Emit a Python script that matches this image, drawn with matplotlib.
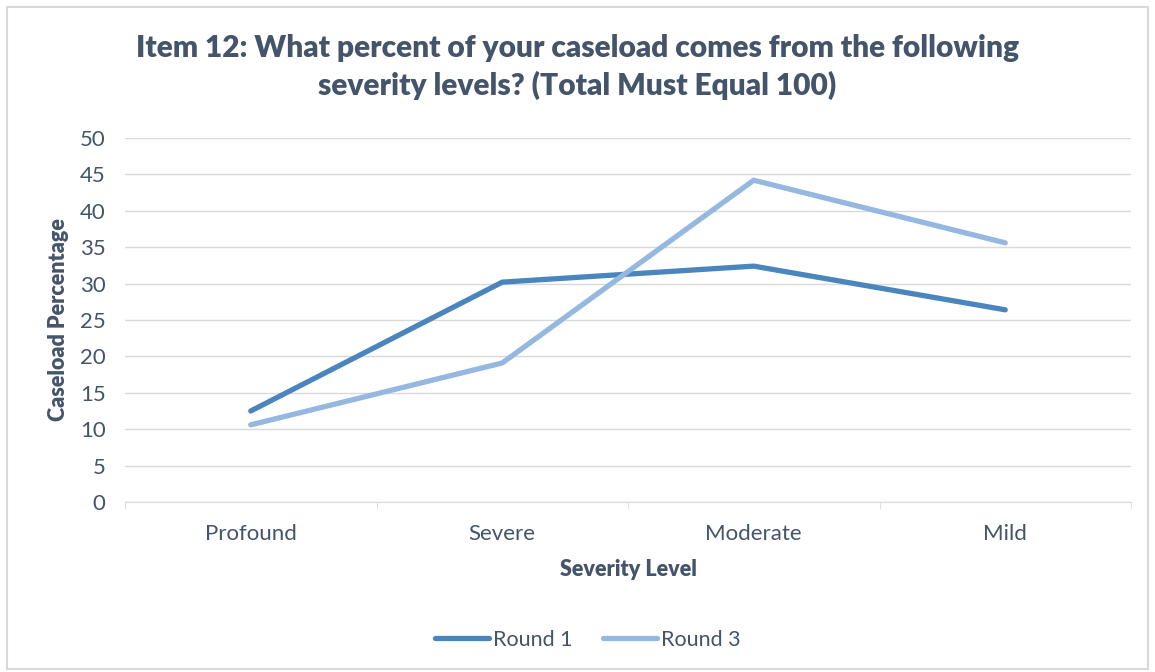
import numpy as np
import matplotlib.pyplot as plt
from matplotlib.patches import Rectangle

# Survey results per severity level
levels = ["Profound", "Severe", "Moderate", "Mild"]
round1 = [12.5, 30.2, 32.4, 26.4]
round3 = [10.6, 19.1, 44.2, 35.6]
y_ticks = [0, 5, 10, 15, 20, 25, 30, 35, 40, 45, 50]

text_color = "#44546A"
plt.rcParams["font.family"] = ["Lato", "DejaVu Sans"]

fig = plt.figure(figsize=(11.55, 6.72), dpi=100)
ax = fig.add_axes([125 / 1155, 1 - 502 / 672, (1131 - 125) / 1155, (502 - 138) / 672])

x = np.arange(len(levels))
ax.plot(x, round1, color="#4A86BD", lw=3.8, solid_capstyle="round", label="Round 1")
ax.plot(x, round3, color="#95B8E0", lw=3.8, solid_capstyle="round", label="Round 3")

ax.set_xlim(-0.5, len(levels) - 0.5)
ax.set_ylim(0, 50)
ax.set_yticks(y_ticks)
ax.set_xticks(x)
ax.set_xticklabels(levels)
ax.set_xticks(np.arange(len(levels) + 1) - 0.5, minor=True)
ax.grid(axis="y", color="#D9D9D9", lw=1)
ax.set_axisbelow(True)
for side in ["top", "right", "left"]:
    ax.spines[side].set_visible(False)
ax.spines["bottom"].set_color("#D9D9D9")
ax.tick_params(axis="x", which="major", length=0, pad=16, labelsize=16, labelcolor=text_color)
ax.tick_params(axis="x", which="minor", length=5, color="#D9D9D9")
ax.tick_params(axis="y", length=0, pad=14, labelsize=16, labelcolor=text_color)

ax.set_xlabel("Severity Level", fontsize=15.5, fontweight="heavy", color=text_color, labelpad=11)
ax.set_ylabel("Caseload Percentage", fontsize=15.5, fontweight="heavy", color=text_color, labelpad=8)

fig.text(0.5, 1 - 67 / 672,
         "Item 12: What percent of your caseload comes from the following\nseverity levels? (Total Must Equal 100)",
         ha="center", va="center", fontsize=21.5, fontweight="heavy", color=text_color, linespacing=1.33)

fig.legend(loc="center", bbox_to_anchor=(588 / 1155, 1 - 640 / 672), ncol=2, frameon=False,
           fontsize=15.5, labelcolor=text_color, handlelength=2.5, handletextpad=0.2, columnspacing=1.4)

# Light frame around the whole chart
fig.patches.append(Rectangle((7 / 1155, 0.005), 1 - 14 / 1155, 1 - 7 / 672 - 0.005,
                             transform=fig.transFigure, fill=False, edgecolor="#D9D9D9", lw=1.5))

fig.savefig("out.png", dpi=100)
